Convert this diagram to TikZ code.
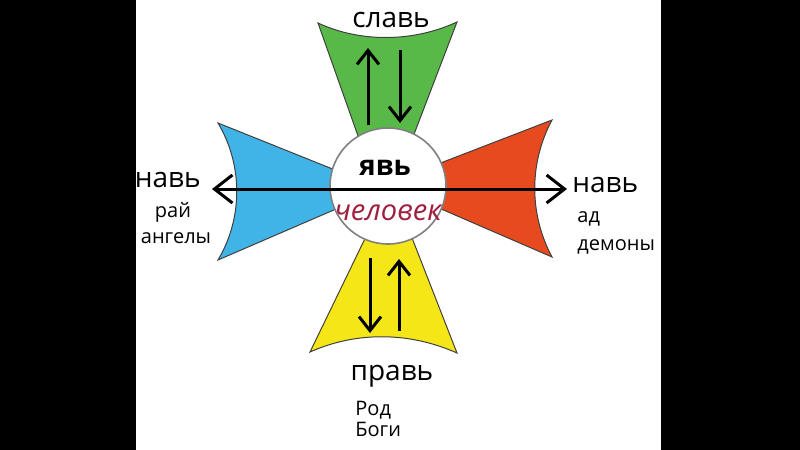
\documentclass[tikz,border=0pt]{standalone}
\usepackage{fontspec}
\setmainfont{Open Sans}
\usetikzlibrary{arrows.meta}
\definecolor{slavgreen}{RGB}{88,184,72}
\definecolor{navblue}{RGB}{64,180,230}
\definecolor{navred}{RGB}{232,74,32}
\definecolor{pravyellow}{RGB}{245,230,24}
\definecolor{chelred}{RGB}{160,30,62}
\tikzset{
  petal/.style={draw=black!75, line width=0.5pt},
  bigtext/.style={font=\fontsize{14}{16}\selectfont, anchor=base, inner sep=0pt},
  smalltext/.style={font=\fontsize{10}{12}\selectfont, anchor=base, inner sep=0pt},
  flow/.style={line width=1.5pt, -{Straight Barb[length=7pt,width=11pt]}},
}
\begin{document}
\begin{tikzpicture}[x=0.5pt, y=-0.5pt]
    \useasboundingbox (0,0) rectangle (800,450);
    % side bars
    \fill[black] (0,0) rectangle (136,450);
    \fill[black] (661,0) rectangle (800,450);

    % славь (green, top)
    \filldraw[petal, fill=slavgreen] (318,23) .. controls (361,43) and (414,42) .. (457,22)
      -- (408,150) -- (363,150) -- cycle;
    % правь (yellow, bottom)
    \filldraw[petal, fill=pravyellow] (310,352) .. controls (357,331) and (410,332) .. (457,353)
      -- (405,220) -- (374,220) -- cycle;
    % навь (blue, left)
    \filldraw[petal, fill=navblue] (218,123) .. controls (243,165) and (243,218) .. (218,260)
      -- (350,203) -- (350,176) -- cycle;
    % навь (red, right)
    \filldraw[petal, fill=navred] (552,120) .. controls (529,163) and (529,214) .. (552,257)
      -- (425,202) -- (425,169) -- cycle;

    % явь
    \node[circle, draw=black!50, fill=white, line width=0.8pt,
          minimum size=58pt, inner sep=0pt] (yav) at (388,186) {};

    % arrows
    \coordinate (axL) at (212,189);
    \coordinate (axR) at (567,189);
    \draw[line width=1.5pt, {Straight Barb[length=9pt,width=14pt]}-{Straight Barb[length=9pt,width=14pt]}]
      (axL) -- (axR);
    \coordinate (gu1) at (368,125);
    \coordinate (gu2) at (368,48);
    \coordinate (gd1) at (400,50);
    \coordinate (gd2) at (400,123);
    \draw[flow] (gu1) -- (gu2);
    \draw[flow] (gd1) -- (gd2);
    \coordinate (yd1) at (370,258);
    \coordinate (yd2) at (370,333);
    \coordinate (yu1) at (399,331);
    \coordinate (yu2) at (399,259);
    \draw[flow] (yd1) -- (yd2);
    \draw[flow] (yu1) -- (yu2);

    % labels
    \node[bigtext] (slav) at (391,27) {славь};
    \node[bigtext] (prav) at (392,380) {правь};
    \node[bigtext, anchor=base east] (navL) at (201,187) {навь};
    \node[bigtext, anchor=base west] (navR) at (572,192) {навь};
    \node[bigtext, font=\fontsize{14}{16}\selectfont\bfseries] (yavtext) at (385,175) {явь};
    \node[bigtext, font=\fontsize{14.5}{16}\selectfont\itshape, text=chelred] (chel) at (388,220) {человек};
    \node[smalltext] (rai) at (173,217) {рай};
    \node[smalltext] (angely) at (176,243) {ангелы};
    \node[smalltext, anchor=base west] (ad) at (577,222) {ад};
    \node[smalltext, anchor=base west] (demony) at (577,250) {демоны};
    \node[smalltext, anchor=base west] (rod) at (355,415) {Род};
    \node[smalltext, anchor=base west] (bogi) at (355,436) {Боги};
\end{tikzpicture}
\end{document}
